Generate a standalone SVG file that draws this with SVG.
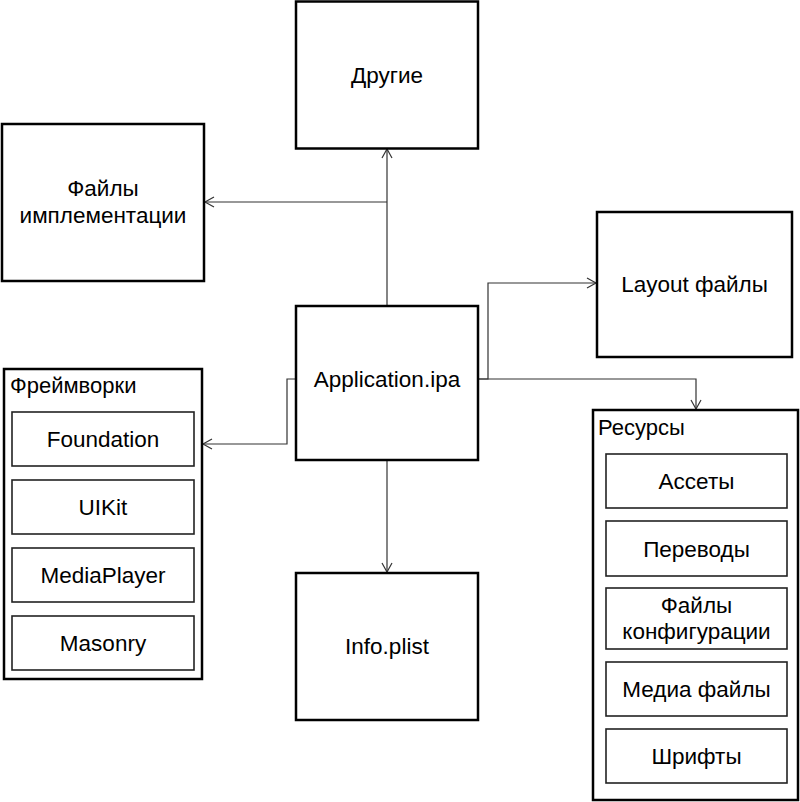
<svg xmlns="http://www.w3.org/2000/svg" width="800" height="802" viewBox="0 0 800 802">
<defs>
<style>
.box{fill:#fff;stroke:#000;stroke-width:2.5}
.inner{fill:#fff;stroke:#222;stroke-width:1.6}
.t{font-family:"Liberation Sans",Arial,sans-serif;font-size:22.5px;fill:#000;text-anchor:middle}
.lbl{font-family:"Liberation Sans",Arial,sans-serif;font-size:22px;fill:#000}
.c{fill:none;stroke:#333;stroke-width:1.2}
</style>
<marker id="arr" markerWidth="12" markerHeight="12" refX="10" refY="6" orient="auto" markerUnits="userSpaceOnUse">
<path d="M1,1 L10,6 L1,11" fill="none" stroke="#333" stroke-width="1.2"/>
</marker>
</defs>
<rect width="800" height="802" fill="#fff"/>
<g id="connectors">
<path class="c" d="M387,306 V149" marker-end="url(#arr)"/>
<path class="c" d="M387,202 H205" marker-end="url(#arr)"/>
<path class="c" d="M387,460 V572" marker-end="url(#arr)"/>
<path class="c" d="M296,379 H287 V444 H203" marker-end="url(#arr)"/>
<path class="c" d="M478,379 H488 V283 H596" marker-end="url(#arr)"/>
<path class="c" d="M478,379 H696 V409" marker-end="url(#arr)"/>
</g>
<g id="drugie">
<rect class="box" x="296" y="1.5" width="182" height="147"/>
<text class="t" x="387" y="83">Другие</text>
</g>
<g id="impl">
<rect class="box" x="2" y="124" width="202" height="157"/>
<text class="t" x="103" y="196">Файлы</text>
<text class="t" x="103" y="223">имплементации</text>
</g>
<g id="layout">
<rect class="box" x="597" y="212" width="195" height="145"/>
<text class="t" x="694.5" y="292">Layout файлы</text>
</g>
<g id="app">
<rect class="box" x="296" y="306" width="182" height="154"/>
<text class="t" x="387" y="387">Application.ipa</text>
</g>
<g id="info">
<rect class="box" x="296" y="573" width="182" height="147"/>
<text class="t" x="387" y="654">Info.plist</text>
</g>
<g id="frameworks">
<rect class="box" x="4" y="369" width="198" height="310"/>
<text class="lbl" x="10" y="393">Фреймворки</text>
<g id="foundation">
<rect class="inner" x="12" y="412" width="182" height="54"/>
<text class="t" x="103" y="447">Foundation</text>
</g>
<g id="uikit">
<rect class="inner" x="12" y="480" width="182" height="54"/>
<text class="t" x="103" y="515">UIKit</text>
</g>
<g id="mediaplayer">
<rect class="inner" x="12" y="548" width="182" height="54"/>
<text class="t" x="103" y="583">MediaPlayer</text>
</g>
<g id="masonry">
<rect class="inner" x="12" y="616" width="182" height="54"/>
<text class="t" x="103" y="651">Masonry</text>
</g>
</g>
<g id="resources">
<rect class="box" x="593" y="410" width="205" height="390"/>
<text class="lbl" x="598" y="435">Ресурсы</text>
<g id="assets">
<rect class="inner" x="606" y="454" width="181" height="54"/>
<text class="t" x="696.5" y="489">Ассеты</text>
</g>
<g id="translations">
<rect class="inner" x="606" y="521" width="181" height="55"/>
<text class="t" x="696.5" y="557">Переводы</text>
</g>
<g id="config">
<rect class="inner" x="606" y="588" width="181" height="61"/>
<text class="t" x="696.5" y="613">Файлы</text>
<text class="t" x="696.5" y="639">конфигурации</text>
</g>
<g id="media">
<rect class="inner" x="606" y="662" width="181" height="54"/>
<text class="t" x="696.5" y="697">Медиа файлы</text>
</g>
<g id="fonts">
<rect class="inner" x="606" y="729" width="181" height="54"/>
<text class="t" x="696.5" y="764">Шрифты</text>
</g>
</g>
</svg>
